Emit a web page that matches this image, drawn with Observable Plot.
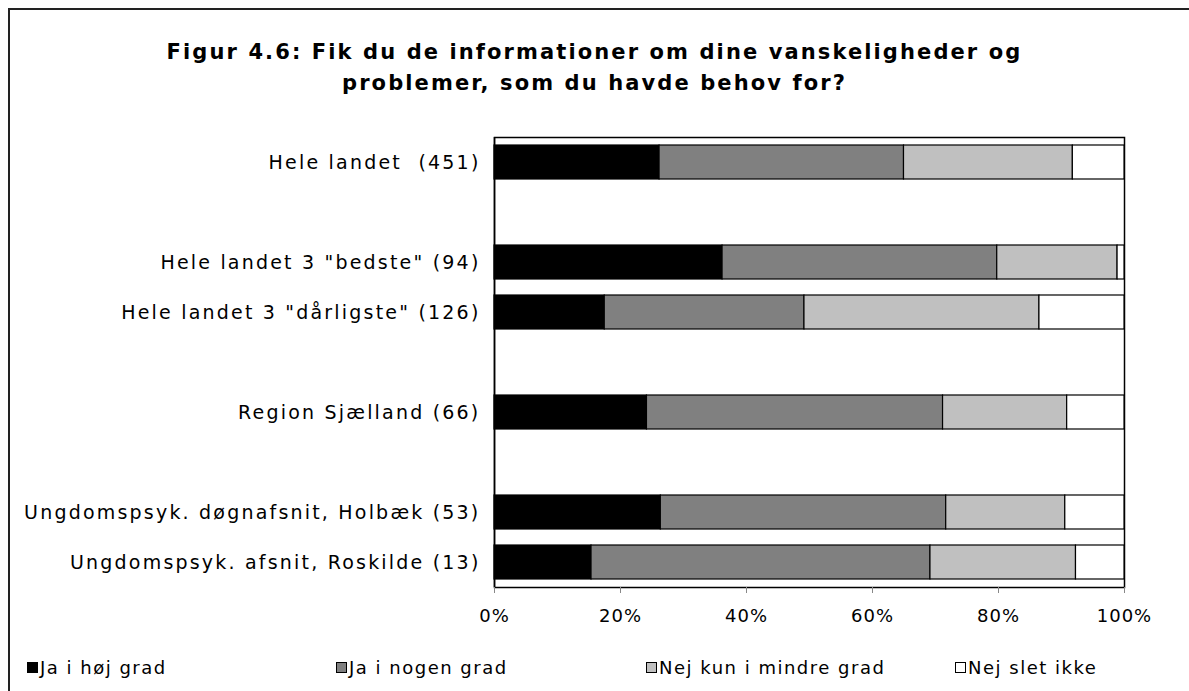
<!DOCTYPE html>
<html><head><meta charset="utf-8">
<script src="https://cdn.jsdelivr.net/npm/d3@7"></script>
<script src="https://cdn.jsdelivr.net/npm/@observablehq/plot@0.6"></script>
<style>
body{margin:0;background:#fff;font-family:"DejaVu Sans",Verdana,sans-serif;color:#000;}
#wrap{position:relative;width:1189px;height:691px;overflow:hidden;}
#frame{position:absolute;left:8px;top:8px;width:1400px;height:900px;border:2px solid #222;}
#title{position:absolute;left:0;width:1189px;top:37px;text-align:center;font-weight:bold;font-size:21px;letter-spacing:2.1px;line-height:31px;}
#chart{position:absolute;left:0;top:0;}
#chart svg g[aria-label="y-axis tick label"] text{letter-spacing:2.2px;}
#chart svg g[aria-label="x-axis tick label"] text{letter-spacing:1px;}
.item{position:absolute;top:657px;display:flex;align-items:center;font-size:18px;letter-spacing:1.5px;white-space:nowrap;height:20px;}
.sw{width:9px;height:9px;border:1px solid #000;margin-right:2px;}
</style>
</head><body>
<div id="wrap">
  <div id="frame"></div>
  <div id="title">Figur 4.6: Fik du de informationer om dine vanskeligheder og<br>problemer, som du havde behov for?</div>
  <div id="chart"></div>
  <div id="legend"></div>
</div>
<script>
const categories = [
  "Hele landet  (451)",
  "Hele landet 3 \"bedste\" (94)",
  "Hele landet 3 \"dårligste\" (126)",
  "Region Sjælland (66)",
  "Ungdomspsyk. døgnafsnit, Holbæk (53)",
  "Ungdomspsyk. afsnit, Roskilde (13)"
];
// row order with empty spacer rows as in the original
const rowSlots = [categories[0], "", categories[1], categories[2], " ", categories[3], "  ", categories[4], categories[5]];
const series = ["Ja i høj grad", "Ja i nogen grad", "Nej kun i mindre grad", "Nej slet ikke"];
const jaHoej    = [26.2, 36.2, 17.5, 24.2, 26.4, 15.4];
const jaNogen   = [38.8, 43.6, 31.7, 47.0, 45.3, 53.8];
const nejMindre = [26.8, 19.1, 37.3, 19.7, 18.9, 23.1];
const nejSlet   = [8.2, 1.1, 13.5, 9.1, 9.4, 7.7];
const seriesColors = ["#000000", "#808080", "#c0c0c0", "#ffffff"];
const xTicks = [0, 20, 40, 60, 80, 100];

const seriesValues = [jaHoej, jaNogen, nejMindre, nejSlet];
const rows = [];
series.forEach((s, si) => categories.forEach((c, ci) => rows.push({category: c, series: s, value: seriesValues[si][ci]})));

const chart = Plot.plot({
  width: 1189,
  height: 640,
  marginLeft: 494,
  marginRight: 65,
  marginTop: 137,
  marginBottom: 53,
  style: {fontFamily: "'DejaVu Sans', Verdana, sans-serif", fontSize: "18px", color: "#000", background: "transparent"},
  x: {domain: [0, 100], ticks: xTicks, tickFormat: d => d + "%", label: null},
  y: {type: "band", domain: rowSlots, paddingInner: 0.32, paddingOuter: 0.16, label: null},
  color: {domain: series, range: seriesColors},
  marks: [
    Plot.frame({stroke: "#000", strokeWidth: 1.5}),
    Plot.barX(rows, Plot.stackX({x: "value", y: "category", fill: "series", stroke: "#000", strokeWidth: 1.2})),
    Plot.ruleX([0], {stroke: "#000", strokeWidth: 1.5}),
    Plot.axisX({ticks: xTicks, tickFormat: d => d + "%", tickSize: 6, tickPadding: 16, stroke: "#888", label: null, fontSize: 18}),
    Plot.axisY({tickSize: 0, tickPadding: 14, fontSize: 19, tickFormat: d => d.trim() === "" ? "" : d, label: null})
  ]
});
document.getElementById("chart").appendChild(chart);

const legendLeft = [27, 336, 646, 955];
const legend = document.getElementById("legend");
series.forEach((s, i) => {
  const it = document.createElement("div");
  it.className = "item";
  it.style.left = legendLeft[i] + "px";
  const sw = document.createElement("div");
  sw.className = "sw";
  sw.style.background = seriesColors[i];
  const tx = document.createElement("span");
  tx.textContent = s;
  it.appendChild(sw); it.appendChild(tx);
  legend.appendChild(it);
});
</script>
</body></html>
